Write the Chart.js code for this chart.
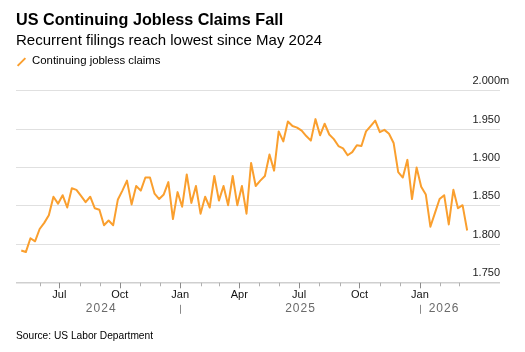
<!DOCTYPE html>
<html>
<head>
<meta charset="utf-8">
<script src="https://cdn.jsdelivr.net/npm/chart.js@4/dist/chart.umd.min.js"></script>
<style>
  html, body { margin: 0; padding: 0; background: #fff; }
  body { width: 525px; height: 352px; position: relative; overflow: hidden;
         font-family: "Liberation Sans", Arial, sans-serif; color: #000; }
  #chartBox { position: absolute; left: 0; top: 0; width: 525px; height: 352px; }
  .txt { position: absolute; left: 16px; white-space: nowrap; }
  #title { top: 11.2px; font-size: 16.2px; line-height: 16px; font-weight: bold; }
  #subtitle { top: 31.6px; font-size: 15px; line-height: 15px; }
  #legend { top: 54.8px; left: 32px; font-size: 11.4px; line-height: 11px; }
  #legendIcon { position: absolute; left: 15.5px; top: 61px; width: 11px; height: 2px;
                background: #fa9f2e; transform: rotate(-45deg); }
  #source { top: 330.5px; font-size: 10.2px; line-height: 10px; }
</style>
</head>
<body>
<div id="chartBox"><canvas id="c"></canvas></div>
<div class="txt" id="title">US Continuing Jobless Claims Fall</div>
<div class="txt" id="subtitle">Recurrent filings reach lowest since May 2024</div>
<div id="legendIcon"></div>
<div class="txt" id="legend">Continuing jobless claims</div>
<div class="txt" id="source">Source: US Labor Department</div>
<script>
// ---- Data ----
const weekEnding = [
  '2024-05-04','2024-05-11','2024-05-18','2024-05-25',
  '2024-06-01','2024-06-08','2024-06-15','2024-06-22','2024-06-29',
  '2024-07-06','2024-07-13','2024-07-20','2024-07-27',
  '2024-08-03','2024-08-10','2024-08-17','2024-08-24','2024-08-31',
  '2024-09-07','2024-09-14','2024-09-21','2024-09-28',
  '2024-10-05','2024-10-12','2024-10-19','2024-10-26',
  '2024-11-02','2024-11-09','2024-11-16','2024-11-23','2024-11-30',
  '2024-12-07','2024-12-14','2024-12-21','2024-12-28',
  '2025-01-04','2025-01-11','2025-01-18','2025-01-25',
  '2025-02-01','2025-02-08','2025-02-15','2025-02-22',
  '2025-03-01','2025-03-08','2025-03-15','2025-03-22','2025-03-29',
  '2025-04-05','2025-04-12','2025-04-19','2025-04-26',
  '2025-05-03','2025-05-10','2025-05-17','2025-05-24','2025-05-31',
  '2025-06-07','2025-06-14','2025-06-21','2025-06-28',
  '2025-07-05','2025-07-12','2025-07-19','2025-07-26',
  '2025-08-02','2025-08-09','2025-08-16','2025-08-23','2025-08-30',
  '2025-09-06','2025-09-13','2025-09-20','2025-09-27',
  '2025-10-04','2025-10-11','2025-10-18','2025-10-25',
  '2025-11-01','2025-11-08','2025-11-15','2025-11-22','2025-11-29',
  '2025-12-06','2025-12-13','2025-12-20','2025-12-27',
  '2026-01-03','2026-01-10','2026-01-17','2026-01-24','2026-01-31',
  '2026-02-07','2026-02-14','2026-02-21','2026-02-28',
  '2026-03-07','2026-03-14'
];
// Continuing jobless claims, millions
const continuingClaims = [
  1.792, 1.790, 1.808, 1.804, 1.820, 1.828, 1.838, 1.862, 1.853, 1.864,
  1.848, 1.873, 1.871, 1.863, 1.855, 1.862, 1.847, 1.845, 1.825, 1.831,
  1.825, 1.858, 1.870, 1.883, 1.852, 1.876, 1.870, 1.887, 1.887, 1.866,
  1.859, 1.865, 1.881, 1.833, 1.868, 1.849, 1.891, 1.854, 1.876, 1.840,
  1.862, 1.848, 1.889, 1.857, 1.876, 1.851, 1.889, 1.851, 1.876, 1.840,
  1.906, 1.876, 1.883, 1.889, 1.917, 1.896, 1.947, 1.934, 1.960, 1.954,
  1.952, 1.948, 1.941, 1.935, 1.963, 1.942, 1.957, 1.943, 1.937, 1.928,
  1.925, 1.916, 1.920, 1.929, 1.928, 1.947, 1.954, 1.961, 1.946, 1.949,
  1.944, 1.932, 1.894, 1.887, 1.910, 1.859, 1.900, 1.875, 1.865, 1.823,
  1.841, 1.859, 1.864, 1.826, 1.871, 1.847, 1.851, 1.818
];
const yTicks = [1.75, 1.80, 1.85, 1.90, 1.95, 2.00];
const monthTicks = [
  '2024-06-01','2024-07-01','2024-08-01','2024-09-01','2024-10-01','2024-11-01','2024-12-01',
  '2025-01-01','2025-02-01','2025-03-01','2025-04-01','2025-05-01','2025-06-01',
  '2025-07-01','2025-08-01','2025-09-01','2025-10-01','2025-11-01','2025-12-01',
  '2026-01-01','2026-02-01','2026-03-01'
];
const quarterLabels = { '01': 'Jan', '04': 'Apr', '07': 'Jul', '10': 'Oct' };
const yearLabels = ['2024', '2025', '2026'];
const yearBounds = ['2024-05-04', '2025-01-01', '2026-01-01', '2026-03-14'];
const yearSeparators = ['2025-01-01', '2026-01-01'];
const xRange = ['2024-04-26', '2026-05-03'];

// ---- helpers ----
const day = s => Date.parse(s + 'T00:00:00Z') / 864e5;
const monthLabel = v => {
  const d = new Date(v * 864e5);
  const m = String(d.getUTCMonth() + 1).padStart(2, '0');
  return quarterLabels[m] || '';
};
const ORANGE = '#fa9f2e';

const axisDecor = {
  id: 'axisDecor',
  afterDraw(chart) {
    const { ctx, chartArea, scales } = chart;
    const x = scales.x, y = scales.y;
    const y0 = chartArea.bottom;
    ctx.save();
    // tick marks
    ctx.lineWidth = 1;
    monthTicks.forEach(m => {
      const px = Math.round(x.getPixelForValue(day(m))) + 0.5;
      const major = !!quarterLabels[m.slice(5, 7)];
      ctx.strokeStyle = major ? '#8a8a8a' : '#b0b0b0';
      ctx.beginPath();
      ctx.moveTo(px, y0);
      ctx.lineTo(px, y0 + (major ? 5.5 : 3.5));
      ctx.stroke();
    });
    // year labels
    ctx.fillStyle = '#6a6a6a';
    ctx.font = '12px "Liberation Sans", Arial, sans-serif';
    ctx.textAlign = 'center';
    ctx.textBaseline = 'middle';
    try { ctx.letterSpacing = '1px'; } catch (e) {}
    yearLabels.forEach((lab, i) => {
      const a = x.getPixelForValue(day(yearBounds[i]));
      const b = x.getPixelForValue(day(yearBounds[i + 1]));
      ctx.fillText(lab, (a + b) / 2 + 0.5, y0 + 26);
    });
    try { ctx.letterSpacing = '0px'; } catch (e) {}
    ctx.strokeStyle = '#8a8a8a';
    yearSeparators.forEach(s => {
      const px = Math.round(x.getPixelForValue(day(s))) + 0.5;
      ctx.beginPath();
      ctx.moveTo(px, y0 + 22);
      ctx.lineTo(px, y0 + 31);
      ctx.stroke();
    });
    // unit suffix after the top y label
    ctx.fillStyle = '#222';
    ctx.font = '11px "Liberation Sans", Arial, sans-serif';
    ctx.textAlign = 'left';
    ctx.textBaseline = 'middle';
    const topY = y.getPixelForValue(yTicks[yTicks.length - 1]);
    ctx.fillText('m', chartArea.right, topY - 9.5);
    ctx.restore();
  }
};

new Chart(document.getElementById('c'), {
  type: 'line',
  data: {
    datasets: [{
      label: 'Continuing jobless claims',
      data: weekEnding.map((d, i) => ({ x: day(d), y: continuingClaims[i] })),
      borderColor: ORANGE,
      borderWidth: 2,
      pointRadius: 0,
      tension: 0,
      borderJoinStyle: 'round',
      fill: false
    }]
  },
  options: {
    responsive: true,
    maintainAspectRatio: false,
    animation: false,
    layout: { padding: { left: 16, right: 25, top: 90.7, bottom: 44 } },
    plugins: { legend: { display: false }, tooltip: { enabled: false } },
    scales: {
      x: {
        type: 'linear',
        min: day(xRange[0]),
        max: day(xRange[1]),
        afterBuildTicks: s => { s.ticks = monthTicks.map(m => ({ value: day(m) })); },
        grid: { display: false, drawTicks: false },
        border: { display: false },
        ticks: {
          autoSkip: false, maxRotation: 0, padding: 6,
          color: '#111',
          font: { family: '"Liberation Sans", Arial, sans-serif', size: 11 },
          callback: v => monthLabel(v)
        }
      },
      y: {
        position: 'right',
        min: 1.75, max: 2.0,
        afterBuildTicks: s => { s.ticks = yTicks.map(v => ({ value: v })); },
        grid: {
          drawTicks: false,
          color: c => c.tick && Math.abs(c.tick.value - 1.75) < 1e-6 ? '#cfcfcf' : '#e0e0e0',
          lineWidth: c => c.tick && Math.abs(c.tick.value - 1.75) < 1e-6 ? 1.5 : 1
        },
        border: { display: false },
        ticks: {
          mirror: true, padding: 0, labelOffset: -9.5,
          color: '#222',
          font: { family: '"Liberation Sans", Arial, sans-serif', size: 11 },
          callback: v => v.toFixed(3)
        }
      }
    }
  },
  plugins: [axisDecor]
});
</script>
</body>
</html>
